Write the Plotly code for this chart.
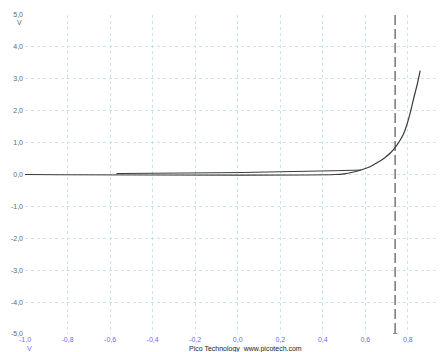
import plotly.graph_objects as go

# Forward sweep (lower branch + exponential rise)
fwd_x = [-1.0, 0.46, 0.50, 0.54, 0.58, 0.61, 0.635, 0.655, 0.68, 0.70, 0.72, 0.74,
         0.764, 0.78, 0.795, 0.811, 0.826, 0.842, 0.858]
fwd_y = [0.0, 0.0, 0.02, 0.07, 0.14, 0.21, 0.29, 0.37, 0.47, 0.57, 0.69, 0.84,
         1.08, 1.28, 1.55, 1.93, 2.35, 2.77, 3.26]
# Return sweep (upper branch)
ret_x = [0.58, 0.47, 0.0, -0.57]
ret_y = [0.14, 0.12, 0.06, 0.03]

cursor_x = 0.74
x_ticks = [-1.0, -0.8, -0.6, -0.4, -0.2, 0.0, 0.2, 0.4, 0.6, 0.8]
y_ticks = [-5.0, -4.0, -3.0, -2.0, -1.0, 0.0, 1.0, 2.0, 3.0, 4.0, 5.0]
x_labels = ["-1,0", "-0,8", "-0,6", "-0,4", "-0,2", "0,0", "0,2", "0,4", "0,6", "0,8"]
y_labels = ["-5,0", "-4,0", "-3,0", "-2,0", "-1,0", "0,0", "1,0", "2,0", "3,0", "4,0", "5,0"]

fig = go.Figure()
fig.add_trace(go.Scatter(x=fwd_x, y=fwd_y, mode="lines", line_shape="spline",
                         line=dict(color="#3a3a3a", width=1.2), showlegend=False))
fig.add_trace(go.Scatter(x=ret_x, y=ret_y, mode="lines",
                         line=dict(color="#3a3a3a", width=1.0), showlegend=False))

# Cursor line
fig.add_shape(type="line", x0=cursor_x, x1=cursor_x, y0=5.0, y1=-5.0, xref="x", yref="y",
              line=dict(color="#444444", width=1.1, dash="10px,4px"))
fig.add_shape(type="line", x0=cursor_x - 0.01, x1=cursor_x + 0.01, y0=-5.0, y1=-5.0,
              xref="x", yref="y", line=dict(color="#444444", width=1.2))

grid = "#c8e6f1"
FONT = "Liberation Sans, Arial, sans-serif"
# the page body adds an 8px offset, so the figure is shifted by it
fig.update_layout(
    width=439, height=344,
    margin=dict(l=17, r=0, t=7, b=18),
    paper_bgcolor="white", plot_bgcolor="white",
    font=dict(family=FONT, size=7),
    xaxis=dict(range=[-1.0, 0.984], tickvals=x_ticks, ticktext=x_labels,
               showgrid=True, gridcolor=grid, griddash="dot", gridwidth=1,
               zeroline=False, showline=False, ticks="",
               tickfont=dict(color="#6b6bff", size=7), ticklabelstandoff=0),
    yaxis=dict(range=[-5.0, 5.0], tickvals=y_ticks, ticktext=y_labels,
               showgrid=True, gridcolor=grid, griddash="dot", gridwidth=1,
               zeroline=False, showline=False, ticks="",
               tickfont=dict(color="#666666", size=7), ticklabelstandoff=1),
)

fig.add_annotation(text="V", xref="paper", yref="paper", x=0, y=1, xshift=-10, yshift=-7,
                   yanchor="middle", showarrow=False, font=dict(color="#666666", size=7))
fig.add_annotation(text="V", xref="paper", yref="paper", x=0, y=0, xshift=0, yshift=-14,
                   yanchor="middle", showarrow=False, font=dict(color="#6b6bff", size=7))
fig.add_annotation(text="Pico Technology  www.picotech.com", xref="paper", yref="paper",
                   x=(245 - 25) / 422, y=0, yshift=-15, yanchor="middle", showarrow=False,
                   font=dict(color="#222222", size=7))

fig.write_html("out.html")
